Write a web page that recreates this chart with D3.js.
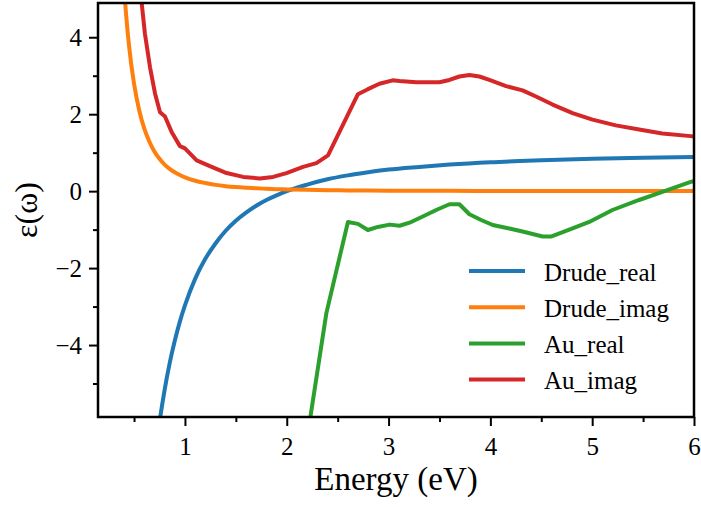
<!DOCTYPE html>
<html>
<head>
<meta charset="utf-8">
<script src="https://cdn.jsdelivr.net/npm/d3@7"></script>
<style>
  body { margin: 0; background: #fff; }
  svg { display: block; }
  .tick line { stroke: #000; stroke-width: 2; }
</style>
</head>
<body>
<svg id="chart" width="701" height="507"></svg>
<script>
// dados: modelo de Drude e Au (real / imag)
const drudeE = [0.38, 0.42, 0.45, 0.5, 0.55, 0.6, 0.65, 0.7, 0.75, 0.8, 0.85, 0.9, 0.95, 1.0,
  1.1, 1.2, 1.3, 1.4, 1.5, 1.6, 1.7, 1.8, 1.9, 2.0, 2.2, 2.4, 2.6, 2.8, 3.0, 3.3, 3.6, 4.0,
  4.5, 5.0, 5.5, 6.0];
const drudeReal = [-25.2, -20.7, -18.0, -14.5, -11.9, -9.87, -8.29, -7.03, -6.01, -5.17, -4.47,
  -3.89, -3.39, -2.97, -2.28, -1.76, -1.36, -1.03, -0.77, -0.56, -0.38, -0.23, -0.11, 0.0,
  0.17, 0.31, 0.41, 0.49, 0.56, 0.63, 0.69, 0.75, 0.80, 0.84, 0.87, 0.89];
const drudeImag = [6.21, 4.65, 3.80, 2.79, 2.11, 1.63, 1.29, 1.03, 0.84, 0.69, 0.58, 0.49, 0.42,
  0.36, 0.27, 0.21, 0.163, 0.13, 0.106, 0.088, 0.073, 0.062, 0.052, 0.045, 0.034, 0.026, 0.020,
  0.016, 0.013, 0.010, 0.0077, 0.0056, 0.0040, 0.0029, 0.0022, 0.0017];

const auRealE = [2.10, 2.232, 2.389, 2.601, 2.699, 2.797, 2.895, 3.01, 3.108, 3.206, 3.336,
  3.468, 3.598, 3.696, 3.794, 3.909, 4.023, 4.186, 4.316, 4.513, 4.595, 4.807, 4.971, 5.199,
  5.461, 5.689, 5.968, 6.10];
const auReal = [-8.2, -5.87, -3.17, -0.80, -0.85, -1.01, -0.93, -0.87, -0.90, -0.82, -0.66,
  -0.49, -0.34, -0.34, -0.60, -0.75, -0.88, -0.97, -1.05, -1.18, -1.18, -0.97, -0.80, -0.49,
  -0.23, -0.02, 0.24, 0.33];

const auImagE = [0.55, 0.575, 0.607, 0.657, 0.706, 0.755, 0.804, 0.869, 0.951, 1.0, 1.115,
  1.245, 1.409, 1.572, 1.735, 1.866, 1.997, 2.160, 2.291, 2.405, 2.699, 2.797, 2.91, 3.04,
  3.108, 3.272, 3.5, 3.598, 3.696, 3.794, 3.892, 3.990, 4.154, 4.316, 4.448, 4.611, 4.807,
  5.003, 5.232, 5.461, 5.689, 5.968, 6.10];
const auImag = [5.6, 4.89, 4.09, 3.22, 2.54, 2.05, 1.94, 1.54, 1.17, 1.11, 0.80, 0.65, 0.47,
  0.37, 0.33, 0.37, 0.47, 0.63, 0.73, 0.93, 2.52, 2.65, 2.79, 2.88, 2.86, 2.83, 2.83, 2.89,
  2.98, 3.02, 2.98, 2.89, 2.73, 2.62, 2.46, 2.25, 2.03, 1.86, 1.71, 1.60, 1.50, 1.43, 1.40];

const seriesNames = ['Drude_real', 'Drude_imag', 'Au_real', 'Au_imag'];
const seriesColors = ['#1f77b4', '#ff7f0e', '#2ca02c', '#d62728'];

const xTicks = [1, 2, 3, 4, 5, 6];
const xMinor = [0.5, 1.5, 2.5, 3.5, 4.5, 5.5];
const yTicks = [-4, -2, 0, 2, 4];
const yMinor = [-5, -3, -1, 1, 3];

const SERIF = '"Liberation Serif", "Times New Roman", serif';

// ---------------------------------------------------------------- layout
const plot = { left: 98, right: 694, top: 3, bottom: 417 };
const svg = d3.select('#chart').attr('font-family', SERIF);

const x = d3.scaleLinear().domain([0.146, 6.0]).range([plot.left, plot.right]);
const y = d3.scaleLinear().domain([-5.87, 4.89]).range([plot.bottom, plot.top]);

svg.append('rect').attr('width', 701).attr('height', 507).attr('fill', '#fff');

svg.append('clipPath').attr('id', 'clip')
  .append('rect')
  .attr('x', plot.left).attr('y', plot.top)
  .attr('width', plot.right - plot.left).attr('height', plot.bottom - plot.top);

const series = [
  { xs: drudeE, ys: drudeReal, curve: d3.curveMonotoneX },
  { xs: drudeE, ys: drudeImag, curve: d3.curveMonotoneX },
  { xs: auRealE, ys: auReal, curve: d3.curveLinear },
  { xs: auImagE, ys: auImag, curve: d3.curveLinear },
];

const linhas = svg.append('g').attr('clip-path', 'url(#clip)');
series.forEach((s, i) => {
  const pts = s.xs.map((e, k) => [e, s.ys[k]]);
  const line = d3.line().x((d) => x(d[0])).y((d) => y(d[1])).curve(s.curve);
  linhas.append('path')
    .attr('d', line(pts))
    .attr('fill', 'none')
    .attr('stroke', seriesColors[i])
    .attr('stroke-width', 4)
    .attr('stroke-linejoin', 'round');
});

// ------------------------------------------------------------ eixos
const gx = svg.append('g').attr('transform', `translate(0,${plot.bottom})`);
gx.call(d3.axisBottom(x).tickValues(xTicks).tickFormat(d3.format('d'))
  .tickSize(9).tickSizeOuter(0).tickPadding(11));
gx.append('g').call(d3.axisBottom(x).tickValues(xMinor).tickFormat('')
  .tickSize(5).tickSizeOuter(0));

const gy = svg.append('g').attr('transform', `translate(${plot.left},0)`);
gy.call(d3.axisLeft(y).tickValues(yTicks).tickFormat(d3.format('d'))
  .tickSize(9).tickSizeOuter(0).tickPadding(7));
gy.append('g').call(d3.axisLeft(y).tickValues(yMinor).tickFormat('')
  .tickSize(5).tickSizeOuter(0));

// d3 põe sans-serif 10px no grupo do eixo; troca pela serifada
svg.selectAll('.domain').remove();
[gx, gy].forEach((g) => g.attr('font-family', SERIF).attr('font-size', 25));
svg.selectAll('.tick text').attr('font-family', SERIF).attr('font-size', 25).attr('fill', '#000');

svg.append('rect')
  .attr('x', plot.left).attr('y', plot.top)
  .attr('width', plot.right - plot.left).attr('height', plot.bottom - plot.top)
  .attr('fill', 'none').attr('stroke', '#000').attr('stroke-width', 2.5);

svg.append('text')
  .attr('x', (plot.left + plot.right) / 2).attr('y', 490)
  .attr('text-anchor', 'middle').attr('font-size', 33)
  .text('Energy (eV)');

svg.append('text')
  .attr('transform', `translate(37,${(plot.top + plot.bottom) / 2}) rotate(-90)`)
  .attr('text-anchor', 'middle').attr('font-size', 32)
  .text('ε(ω)');

// ------------------------------------------------------------ legenda
const leg = svg.append('g');
seriesNames.forEach((nome, i) => {
  const cy = 271 + i * 36.2;
  leg.append('line')
    .attr('x1', 469).attr('x2', 525).attr('y1', cy).attr('y2', cy)
    .attr('stroke', seriesColors[i]).attr('stroke-width', 4);
  leg.append('text')
    .attr('x', 544).attr('y', cy + 9.5)
    .attr('font-size', 25)
    .text(nome);
});
</script>
</body>
</html>
